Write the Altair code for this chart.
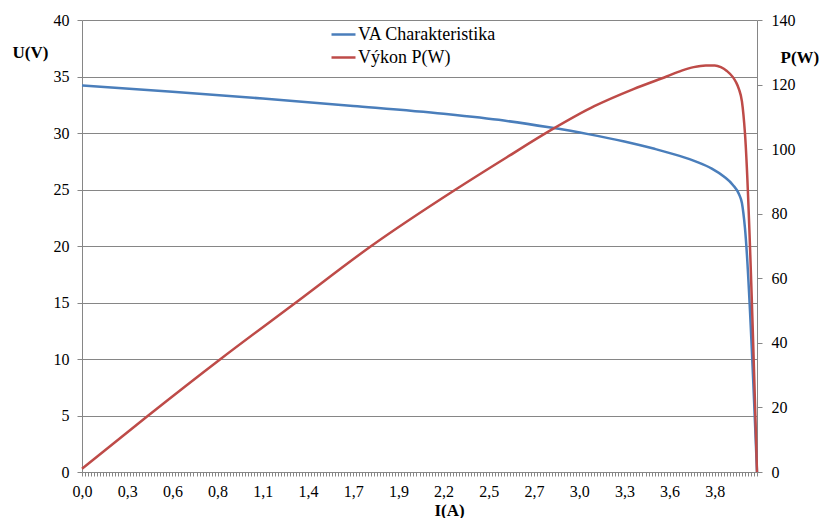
import json
import altair as alt
import pandas as pd

# x axis: Excel-style category axis (one tick per measurement), labelled every 15th point
x_labels = ["0,0", "0,3", "0,6", "0,8", "1,1", "1,4", "1,7", "1,9",
            "2,2", "2,5", "2,7", "3,0", "3,3", "3,6", "3,8"]
label_step = 15
n_points = 225  # category positions 0..224

# VA characteristic U(V) (category index, value)
u_index = [0, 30, 60, 90, 120, 140, 155, 168, 180, 190, 198, 204, 209, 213, 216, 218,
           219, 220, 224]
u_values = [34.2, 33.65, 33.05, 32.4, 31.7, 31.1, 30.5, 29.9, 29.25, 28.6, 28.0, 27.45,
            26.85, 26.15, 25.4, 24.6, 23.8, 21.6, 0.0]

# Power P(W)
p_index = [0, 22, 46, 71, 96, 124, 141, 156, 170, 183, 194, 199, 203, 207, 210, 212,
           214, 216, 217, 218, 219, 220, 224]
p_values = [1.0, 17.5, 35.0, 52.5, 70.0, 87.5, 97.5, 106.1, 113.3, 118.6, 122.5, 124.3,
            125.4, 125.9, 125.9, 125.4, 124.2, 122.3, 120.8, 118.6, 114.8, 105.0, 0.0]

series_names = ["VA Charakteristika", "Výkon P(W)"]
series_colors = ["#4A7EBB", "#BE4B48"]

u_df = pd.DataFrame({"idx": u_index, "val": u_values, "series": series_names[0]})
p_df = pd.DataFrame({"idx": p_index, "val": p_values, "series": series_names[1]})

FONT = "Liberation Serif"
GRAY = "#868686"

label_expr = ("datum.value % {s} == 0 && datum.value <= {m} ? {arr}[datum.value / {s}] : ''"
              .format(s=label_step, m=label_step * (len(x_labels) - 1), arr=json.dumps(x_labels)))

x_enc = alt.X(
    "idx:Q",
    scale=alt.Scale(domain=[0, n_points - 1], nice=False, zero=False),
    axis=alt.Axis(
        values=list(range(n_points)),
        labelExpr=label_expr,
        labelOverlap=False,
        labelFlush=False,
        labelAngle=0,
        labelFont=FONT,
        tickSize=4,
        labelPadding=7,
        grid=False,
        title="I(A)",
        titleX=367,
        titleY=43,
        titleAlign="center",
        titleBaseline="alphabetic",
    ),
)

color_enc = alt.Color(
    "series:N",
    scale=alt.Scale(domain=series_names, range=series_colors),
    legend=alt.Legend(
        orient="none",
        legendX=248,
        legendY=1,
        title=None,
        symbolType="stroke",
        symbolSize=576,
        symbolStrokeWidth=2.5,
        labelFont=FONT,
        labelFontSize=18,
        labelColor="black",
        labelOffset=1,
        rowPadding=0,
        padding=0,
    ),
)

u_line = alt.Chart(u_df).mark_line(strokeWidth=2.5, interpolate="monotone").encode(
    x=x_enc,
    y=alt.Y(
        "val:Q",
        scale=alt.Scale(domain=[0, 40], nice=False),
        axis=alt.Axis(
            values=list(range(0, 41, 5)),
            title="U(V)",
            titleAngle=0,
            titleX=-70,
            titleY=32,
            titleAlign="left",
            titleBaseline="middle",
            labelFont=FONT,
            tickSize=5,
            labelPadding=8,
            grid=True,
        ),
    ),
    color=color_enc,
)

p_line = alt.Chart(p_df).mark_line(strokeWidth=2.5, interpolate="monotone").encode(
    x=x_enc,
    y=alt.Y(
        "val:Q",
        scale=alt.Scale(domain=[0, 140], nice=False),
        axis=alt.Axis(
            orient="right",
            values=list(range(0, 141, 20)),
            title="P(W)",
            titleAngle=0,
            titleX=23,
            titleY=37,
            titleAlign="left",
            titleBaseline="middle",
            labelFont=FONT,
            tickSize=5,
            labelPadding=9,
            grid=False,
        ),
    ),
    color=color_enc,
)

chart = (
    alt.layer(u_line, p_line)
    .resolve_scale(y="independent")
    .properties(
        width=675,
        height=452,
        padding={"left": 74, "top": 12, "right": 62, "bottom": 46},
        autosize=alt.AutoSizeParams(type="none"),
        background="white",
    )
    .configure(font=FONT)
    .configure_view(strokeWidth=0)
    .configure_legend(labelFont=FONT)
    .configure_axis(
        labelFont=FONT,
        labelFontSize=16,
        labelColor="black",
        titleFont=FONT,
        titleFontSize=17,
        titleFontWeight="bold",
        titleColor="black",
        domainColor=GRAY,
        domainWidth=1,
        tickColor=GRAY,
        tickWidth=1,
        gridColor=GRAY,
        gridWidth=1,
    )
)

chart.save("out.html", embed_options={"renderer": "svg", "actions": False})
